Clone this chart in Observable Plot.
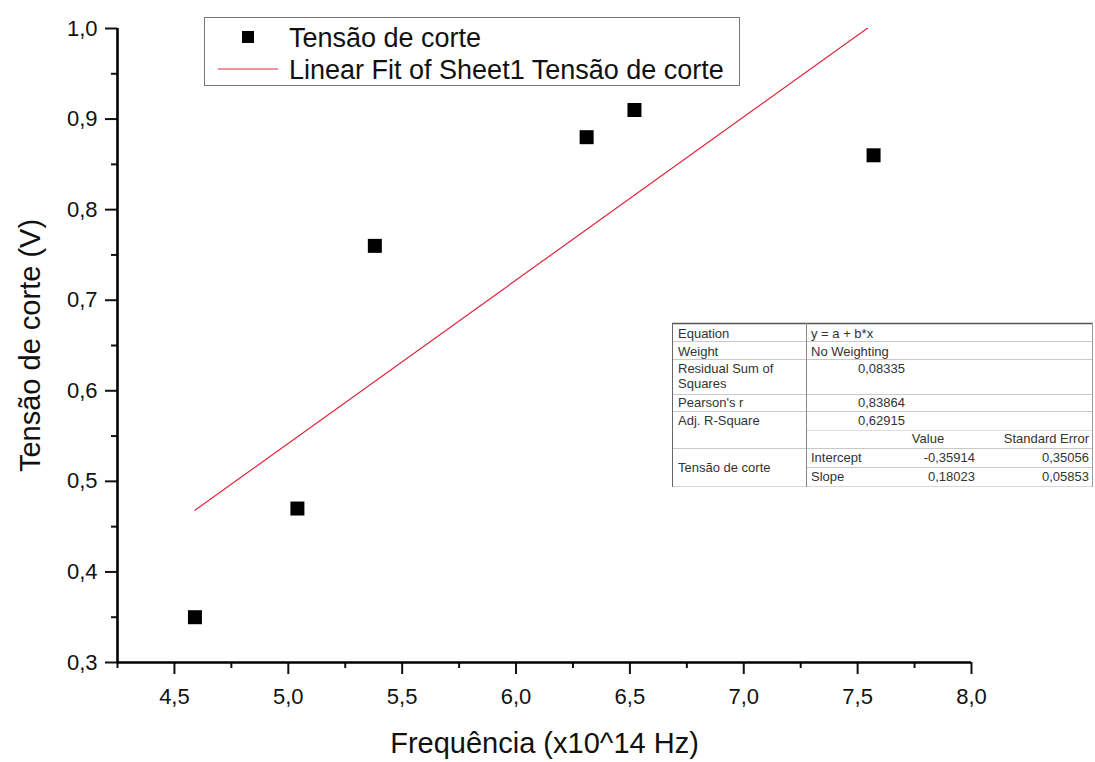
<!DOCTYPE html>
<html>
<head>
<meta charset="utf-8">
<script src="https://cdn.jsdelivr.net/npm/d3@7"></script>
<script src="https://cdn.jsdelivr.net/npm/@observablehq/plot@0.6"></script>
<style>
  html, body { margin: 0; padding: 0; background: #fff; }
  #wrap { position: relative; width: 1095px; height: 762px; font-family: "Liberation Sans", Arial, sans-serif; }
  #overlay { position: absolute; left: 0; top: 0; pointer-events: none; }
</style>
</head>
<body>
<div id="wrap"></div>
<script>
// ---- data ----
const freq = [4.59, 5.04, 5.38, 6.31, 6.52, 7.57];            // x10^14 Hz
const cutoffV = [0.35, 0.47, 0.76, 0.88, 0.91, 0.86];         // V
const fitIntercept = -0.35914;
const fitSlope = 0.18023;
const xMajorTicks = [4.5, 5.0, 5.5, 6.0, 6.5, 7.0, 7.5, 8.0];
const xMinorTicks = [4.25, 4.75, 5.25, 5.75, 6.25, 6.75, 7.25, 7.75];
const yMajorTicks = [0.3, 0.4, 0.5, 0.6, 0.7, 0.8, 0.9, 1.0];
const yMinorTicks = [0.35, 0.45, 0.55, 0.65, 0.75, 0.85, 0.95];
const xTitle = "Frequência (x10^14 Hz)";
const yTitle = "Tensão de corte (V)";
const legendLabels = ["Tensão de corte", "Linear Fit of Sheet1 Tensão de corte"];
const tableLabels = ["Equation", "Weight", "Residual Sum of|Squares", "Pearson's r", "Adj. R-Square"];
const tableValues = ["y = a + b*x", "No Weighting", "0,08335", "0,83864", "0,62915"];
const paramHeader = ["Value", "Standard Error"];
const paramGroup = "Tensão de corte";
const paramNames = ["Intercept", "Slope"];
const paramValues = ["-0,35914", "0,18023"];
const paramErrors = ["0,35056", "0,05853"];

// ---- chart ----
const fmt = d => d.toFixed(1).replace(".", ",");
const points = freq.map((x, i) => ({x, y: cutoffV[i]}));
const fitLine = d3.extent(freq).map(x => ({x, y: fitIntercept + fitSlope * x}));
const red = "#e2263c";

const chart = Plot.plot({
  width: 1095, height: 762,
  marginLeft: 117, marginRight: 124, marginTop: 28, marginBottom: 100,
  style: {fontFamily: "'Liberation Sans', Arial, sans-serif", background: "#fff", color: "#111"},
  x: {domain: [4.25, 8.0], label: null},
  y: {domain: [0.3, 1.0], label: null},
  marks: [
    Plot.line(fitLine, {x: "x", y: "y", stroke: red, strokeWidth: 1.2, clip: true}),
    Plot.dot(points, {x: "x", y: "y", symbol: "square", r: 7.9, fill: "#000", stroke: "none"}),
    Plot.axisX(xMajorTicks, {tickSize: 12, tickPadding: 14, tickFormat: fmt, fontSize: 22, strokeWidth: 2, label: null}),
    Plot.axisX(xMinorTicks, {tickSize: 6, text: null, strokeWidth: 2, label: null}),
    Plot.axisY(yMajorTicks, {tickSize: 12, tickPadding: 8, tickFormat: fmt, fontSize: 22, strokeWidth: 2, label: null}),
    Plot.axisY(yMinorTicks, {tickSize: 6, text: null, strokeWidth: 2, label: null}),
    Plot.ruleX([4.25], {strokeWidth: 2.6, stroke: "#000"}),
    Plot.ruleY([0.3], {strokeWidth: 2.6, stroke: "#000"}),
    Plot.text([xTitle], {frameAnchor: "bottom", textAnchor: "middle", lineAnchor: "middle", dy: 81, fontSize: 29, fill: "#111"}),
    Plot.text([yTitle], {frameAnchor: "left", textAnchor: "middle", lineAnchor: "middle", rotate: -90, dx: -87, fontSize: 29, fill: "#111"})
  ]
});
document.getElementById("wrap").appendChild(chart);

// ---- legend and fit table overlay ----
const svg = d3.select("#wrap").append("svg")
  .attr("id", "overlay").attr("width", 1095).attr("height", 762)
  .style("font-family", "'Liberation Sans', Arial, sans-serif");

// legend
const lg = svg.append("g");
lg.append("rect").attr("x", 204.5).attr("y", 17.5).attr("width", 535).attr("height", 68)
  .attr("fill", "#fff").attr("stroke", "#777").attr("stroke-width", 1);
lg.append("rect").attr("x", 242).attr("y", 31).attr("width", 12).attr("height", 12).attr("fill", "#000");
lg.append("line").attr("x1", 218).attr("x2", 278).attr("y1", 69).attr("y2", 69)
  .attr("stroke", red).attr("stroke-width", 1.2);
lg.selectAll("text.lg").data(legendLabels).join("text").attr("class", "lg")
  .attr("x", 289).attr("y", (d, i) => i === 0 ? 47 : 79)
  .attr("font-size", 27).attr("fill", "#111").text(d => d);

// table
const tb = svg.append("g").attr("font-size", 13).attr("fill", "#333");
const L = 672, C = 806, R = 1093, T = 323, B = 487;
tb.append("rect").attr("x", L).attr("y", T).attr("width", R - L).attr("height", B - T).attr("fill", "#fff");
const hl = (y, x1, x2, col, w) => tb.append("line").attr("x1", x1).attr("x2", x2)
  .attr("y1", y).attr("y2", y).attr("stroke", col).attr("stroke-width", w);
const vl = (x, y1, y2, col) => tb.append("line").attr("x1", x).attr("x2", x)
  .attr("y1", y1).attr("y2", y2).attr("stroke", col).attr("stroke-width", 1);
hl(T + 0.5, L, R, "#555", 1.5);
[341.5, 359.5, 394.5, 411.5, 448.5].forEach(y => hl(y, L, R, "#c8c8c8", 1));
hl(430.5, C, R, "#dedede", 1);
hl(467.5, C, R, "#c8c8c8", 1);
hl(B - 0.5, L, R, "#d8d8d8", 1);
vl(L + 0.5, T, B, "#666");
vl(C + 0.5, T, B, "#888");
vl(R - 0.5, T, B, "#999");

const rowBase = [338, 356, 373, 407, 425];
tableLabels.forEach((lab, i) => {
  const parts = lab.split("|");
  parts.forEach((p, j) => tb.append("text").attr("x", 678).attr("y", rowBase[i] + j * 15).text(p));
});
tableValues.forEach((v, i) => {
  if (i < 2) tb.append("text").attr("x", 811).attr("y", rowBase[i]).text(v);
  else tb.append("text").attr("x", 905).attr("y", rowBase[i]).attr("text-anchor", "end").text(v);
});
tb.append("text").attr("x", 928).attr("y", 443).attr("text-anchor", "middle").text(paramHeader[0]);
tb.append("text").attr("x", 1089).attr("y", 443).attr("text-anchor", "end").text(paramHeader[1]);
tb.append("text").attr("x", 678).attr("y", 472).text(paramGroup);
const pBase = [462, 481];
paramNames.forEach((n, i) => {
  tb.append("text").attr("x", 811).attr("y", pBase[i]).text(n);
  tb.append("text").attr("x", 975).attr("y", pBase[i]).attr("text-anchor", "end").text(paramValues[i]);
  tb.append("text").attr("x", 1089).attr("y", pBase[i]).attr("text-anchor", "end").text(paramErrors[i]);
});
</script>
</body>
</html>
